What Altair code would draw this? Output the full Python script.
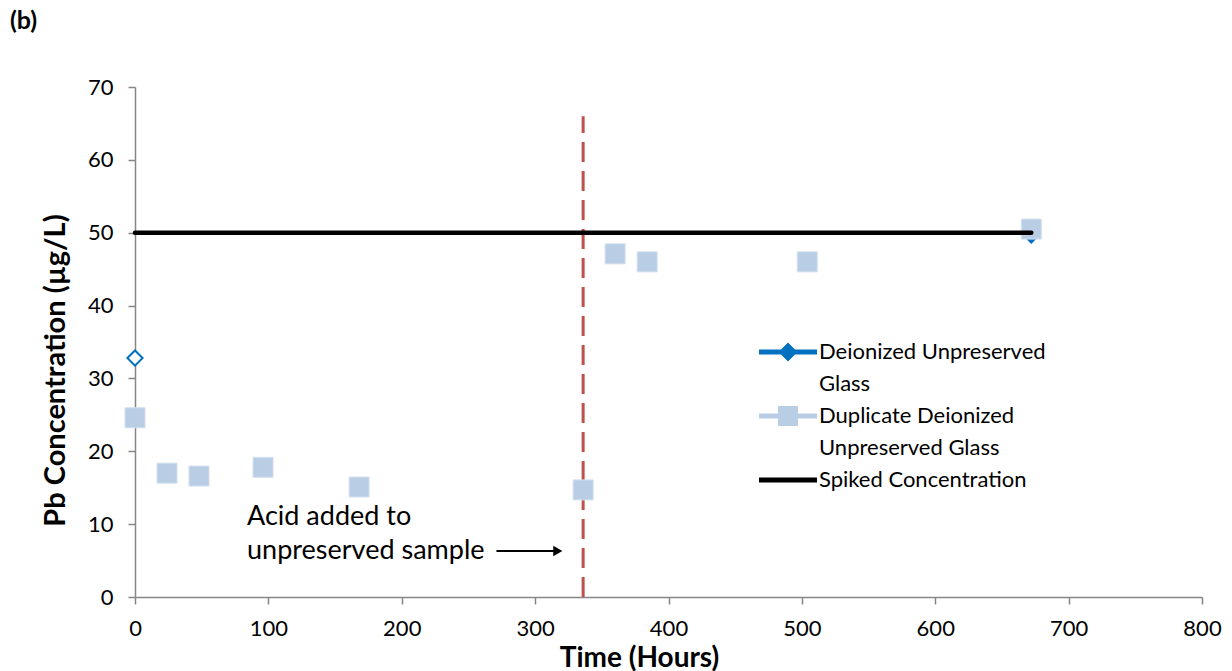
import altair as alt
import pandas as pd

# ---- data ----
legend_rows = ["Deionized Unpreserved", "Glass", "Duplicate Deionized", "Unpreserved Glass", "Spiked Concentration"]
legend_colors = ["#0070c0", "rgba(0,0,0,0)", "#b9cde5", "rgba(0,0,0,0)", "#000000"]

dei_x = [0, 672]
dei_y = [32.8, 49.5]
dei_open = [True, False]

dup_x = [0, 24, 48, 96, 168, 336, 360, 384, 504, 672]
dup_y = [24.6, 17.0, 16.6, 17.8, 15.1, 14.7, 47.1, 46.0, 46.0, 50.5]

spike_x = [0, 672]
spike_y = [50, 50]

acid_x = [336]
acid_y0 = [0]
acid_y1 = [66]

arrow_x0 = [271]
arrow_x1 = [317]
arrow_y = [6.3]

note_lines = ["Acid added to", "unpreserved sample"]
note_x = [84, 84]
note_y = [11.0, 6.3]

x_ticks = [0, 100, 200, 300, 400, 500, 600, 700, 800]
y_ticks = [0, 10, 20, 30, 40, 50, 60, 70]

FONT = "Lato"

dei = pd.DataFrame({"x": dei_x, "y": dei_y, "open": dei_open})
dup = pd.DataFrame({"x": dup_x, "y": dup_y})
spike = pd.DataFrame({"x": spike_x, "y": spike_y})
acid = pd.DataFrame({"x": acid_x, "y": acid_y0, "y2": acid_y1})
arrow = pd.DataFrame({"x": arrow_x0, "x2": arrow_x1, "y": arrow_y})
note = pd.DataFrame({"x": note_x, "y": note_y, "t": note_lines})
legend_df = pd.DataFrame({"series": legend_rows, "x": [None] * 5, "y": [None] * 5})

xscale = alt.Scale(domain=[0, 800], nice=False)
yscale = alt.Scale(domain=[0, 70], nice=False)

x_axis = alt.Axis(values=x_ticks, title="Time (Hours)", grid=False, titleX=504, titleY=61,
                  titleBaseline="middle", titleAlign="center", labelPadding=14, titleFontSize=28,
                  labelFlush=False)
y_axis = alt.Axis(values=y_ticks, title="Pb Concentration (µg/L)", grid=False, titleX=-80, titleY=283,
                  titleAlign="center", titleBaseline="middle", titleAngle=-90, labelPadding=15,
                  labelFlush=False)

X = alt.X("x:Q", scale=xscale, axis=x_axis)
Y = alt.Y("y:Q", scale=yscale, axis=y_axis)

# legend symbols: line with marker (unit = 10 px for symbolSize 400)
p_dei = ("M-2.9,-0.25 L-0.7,-0.25 L0,-0.95 L0.7,-0.25 L2.9,-0.25 L2.9,0.25 L0.7,0.25 "
         "L0,0.95 L-0.7,0.25 L-2.9,0.25 Z")
p_dup = ("M-2.9,-0.25 L-1,-0.25 L-1,-1 L1,-1 L1,-0.25 L2.9,-0.25 L2.9,0.25 L1,0.25 "
         "L1,1 L-1,1 L-1,0.25 L-2.9,0.25 Z")
p_spk = "M-2.9,-0.25 L2.9,-0.25 L2.9,0.25 L-2.9,0.25 Z"
p_none = "M0,0 L0.01,0 Z"

legend_layer = alt.Chart(legend_df).mark_point(filled=True, opacity=1, strokeWidth=0).encode(
    x=X, y=Y,
    color=alt.Color("series:N", scale=alt.Scale(domain=legend_rows, range=legend_colors),
                    legend=alt.Legend(title=None, orient="none", legendX=642, legendY=254, padding=0,
                                      labelFontSize=22, labelFont=FONT, labelColor="#000000",
                                      labelOffset=20, rowPadding=10, symbolSize=400,
                                      symbolOpacity=1, symbolStrokeWidth=0, labelLimit=400)),
    shape=alt.Shape("series:N", scale=alt.Scale(domain=legend_rows,
                                                range=[p_dei, p_none, p_dup, p_none, p_spk]), legend=None),
)

dei_open_layer = alt.Chart(dei).transform_filter("datum.open").mark_point(
    shape="diamond", filled=False, size=230, strokeWidth=2, color="#0070c0", opacity=1, fill="white"
).encode(x=X, y=Y)

dei_fill_layer = alt.Chart(dei).transform_filter("!datum.open").mark_point(
    shape="diamond", filled=True, size=230, color="#0070c0", opacity=1
).encode(x=X, y=Y)

dup_layer = alt.Chart(dup).mark_point(
    shape="square", filled=True, size=400, color="#b9cde5", opacity=1, stroke="#d3e0ef", strokeWidth=1
).encode(x=X, y=Y)

spike_layer = alt.Chart(spike).mark_line(color="#000000", strokeWidth=4.5, strokeCap="round").encode(x=X, y=Y)

acid_layer = alt.Chart(acid).mark_rule(color="#c0504d", strokeWidth=3, strokeDash=[20, 9]).encode(
    x=X, y=Y, y2="y2:Q")

arrow_layer = alt.Chart(arrow).mark_rule(color="#000000", strokeWidth=2).encode(x=X, x2="x2:Q", y=Y)
arrow_head = alt.Chart(arrow).mark_point(shape="triangle-right", filled=True, size=110, color="#000000",
                                         opacity=1).encode(x=alt.X("x2:Q", scale=xscale, axis=x_axis), y=Y)

note_layer = alt.Chart(note).mark_text(align="left", baseline="middle", fontSize=27, font=FONT,
                                       color="#000000").encode(x=X, y=Y, text="t:N")

chart = alt.layer(
    legend_layer, acid_layer, dei_open_layer, dei_fill_layer, dup_layer, spike_layer,
    arrow_layer, arrow_head, note_layer
).properties(
    width=1067, height=510,
    title=alt.TitleParams("(b)", anchor="start", frame="group", fontSize=25, fontWeight="bold", font=FONT,
                          dx=-125, offset=42, color="#000000"),
    autosize=alt.AutoSizeParams(type="none"),
    padding={"left": 135, "top": 87, "right": 30, "bottom": 74},
).configure_view(stroke=None).configure_axis(
    domainColor="#868686", tickColor="#868686", tickSize=7, domainWidth=1.5, tickWidth=1.5,
    labelFont=FONT, labelFontSize=22, labelColor="#000000",
    titleFont=FONT, titleFontSize=29, titleFontWeight="bold", titleColor="#000000",
)

chart.save("out.html", embed_options={"renderer": "svg", "actions": False})
